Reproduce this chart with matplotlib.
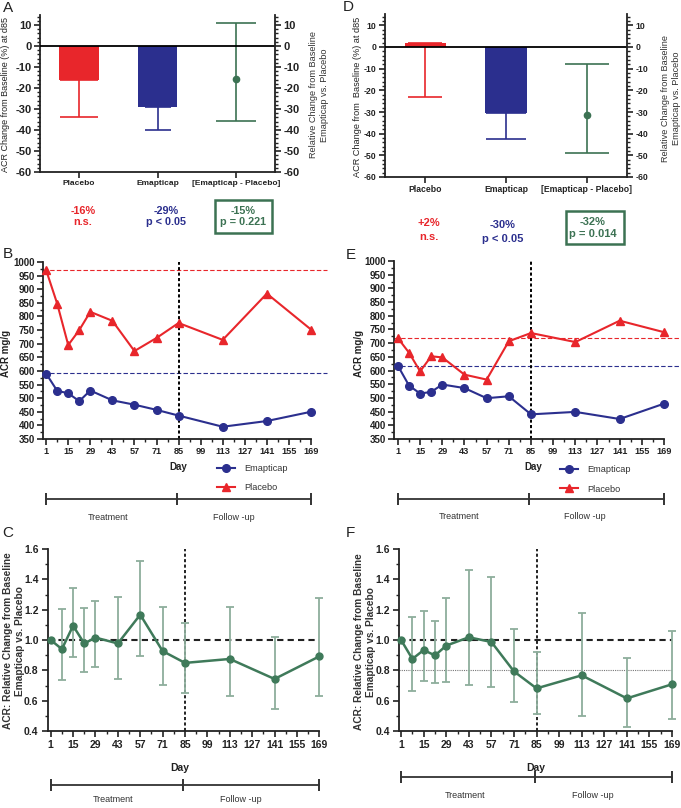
import matplotlib
matplotlib.use('Agg')
import numpy as np
import matplotlib.pyplot as plt
import matplotlib.transforms as mtransforms
from matplotlib.patches import Rectangle
from matplotlib.ticker import MultipleLocator, FixedLocator

plt.rcParams['font.family'] = ['Liberation Sans', 'DejaVu Sans']
plt.rcParams['axes.unicode_minus'] = False

# ---------------- data ----------------
bar_categories = ['Placebo', 'Emapticap', '[Emapticap - Placebo]']

A_bar_values = [-16, -29]
A_bar_lower = [-34, -40]
A_diff_value = -15.5
A_diff_ci = [-35.5, 11]

D_bar_values = [2, -30.5]
D_bar_lower = [-23, -42.5]
D_diff_value = -31.5
D_diff_ci = [-49, -8]

A_notes = [('-16%', 'n.s.'), ('-29%', 'p < 0.05'), ('-15%', 'p = 0.221')]
D_notes = [('+2%', 'n.s.'), ('-30%', 'p < 0.05'), ('-32%', 'p = 0.014')]

days = [1, 8, 15, 22, 29, 43, 57, 71, 85, 113, 141, 169]

B_placebo = [970, 847, 695, 750, 817, 784, 673, 721, 776, 714, 884, 752]
B_emapticap = [590, 527, 518, 489, 528, 492, 476, 457, 436, 395, 416, 450]
B_placebo_baseline = 972
B_emapticap_baseline = 591

E_placebo = [718, 665, 597, 652, 648, 585, 567, 707, 737, 704, 782, 740]
E_emapticap = [617, 545, 516, 522, 549, 536, 499, 506, 440, 449, 423, 479]
E_placebo_baseline = 718
E_emapticap_baseline = 617

C_ratio = [1.00, 0.940, 1.094, 0.977, 1.016, 0.977, 1.167, 0.927, 0.849, 0.875, 0.743, 0.892]
C_low = [1.00, 0.736, 0.886, 0.787, 0.820, 0.745, 0.897, 0.702, 0.650, 0.630, 0.542, 0.629]
C_high = [1.00, 1.202, 1.345, 1.213, 1.259, 1.281, 1.521, 1.220, 1.110, 1.220, 1.020, 1.275]

F_ratio = [1.00, 0.875, 0.934, 0.898, 0.963, 1.018, 0.987, 0.793, 0.681, 0.767, 0.615, 0.708]
F_low = [1.00, 0.664, 0.730, 0.714, 0.725, 0.705, 0.690, 0.589, 0.510, 0.501, 0.426, 0.477]
F_high = [1.00, 1.154, 1.193, 1.123, 1.277, 1.462, 1.415, 1.070, 0.919, 1.176, 0.884, 1.059]
F_reference = 0.8

timeline_days = [1, 84, 169]
timeline_labels = ['Treatment', 'Follow -up']

# ---------------- style ----------------
RED = '#E8262B'
BLUE = '#2B2F8E'
GREEN = '#3C7253'
GREEN_LINE = '#3F7A5A'
GREEN_ERR = '#8DAE9C'
DARK = '#222222'

W, H = 681, 808
fig = plt.figure(figsize=(W / 100, H / 100), dpi=100)


def ax_px(x0, y0, x1, y1):
    return fig.add_axes([x0 / W, 1 - y1 / H, (x1 - x0) / W, (y1 - y0) / H])


def ft(x, y, s, **kw):
    kw.setdefault('ha', 'center')
    kw.setdefault('va', 'center')
    kw.setdefault('color', DARK)
    return fig.text(x / W, 1 - y / H, s, **kw)


def style_ticks(ax, size, pad=3.0):
    ax.tick_params(axis='both', which='major', direction='out', length=4, width=1.2,
                   labelsize=size, colors=DARK, pad=pad)
    ax.tick_params(axis='both', which='minor', direction='out', length=2.3, width=1.0,
                   colors=DARK)
    for lab in ax.get_xticklabels() + ax.get_yticklabels():
        lab.set_fontweight('bold')
    for sp in ax.spines.values():
        sp.set_linewidth(1.3)
        sp.set_color(DARK)


# ---------------- bar panels (A, D) ----------------
def bar_panel(ax, vals, lowers, diff, ci, caps, ticksize, catsize):
    x = np.arange(3)
    ax.bar(x[:2], vals, width=0.51, color=[RED, BLUE], zorder=2)
    for xi, v, lo, c, cs in zip(x[:2], vals, lowers, [RED, BLUE], caps[:2]):
        ax.errorbar(xi, v, yerr=[[v - lo], [0]], color=c, capsize=cs, lw=1.2,
                    capthick=1.2, zorder=1)
    ax.errorbar(x[2], diff, yerr=[[diff - ci[0]], [ci[1] - diff]], fmt='o', color=GREEN,
                ms=4.5, capsize=caps[2], lw=1.2, capthick=1.2, zorder=3)
    ax.axhline(0, color='black', lw=1.3, zorder=4)
    ax.set_xlim(-0.5, 2.5)
    ax.set_ylim(-60, 15)
    ax.set_xticks(x)
    ax.set_xticklabels(bar_categories, fontsize=catsize)
    ax.set_yticks(range(-60, 11, 10))
    ax.yaxis.set_minor_locator(MultipleLocator(2))
    ax.spines['top'].set_visible(False)
    ax.spines['right'].set_visible(False)
    style_ticks(ax, ticksize, pad=2)
    for lab in ax.get_xticklabels():
        lab.set_fontsize(catsize)
    ax2 = ax.twinx()
    ax2.set_ylim(-60, 15)
    ax2.set_yticks(range(-60, 11, 10))
    ax2.yaxis.set_minor_locator(MultipleLocator(2))
    for s in ['top', 'left', 'bottom']:
        ax2.spines[s].set_visible(False)
    style_ticks(ax2, ticksize, pad=2)
    return ax2


axA = ax_px(40, 14.5, 275, 172)
bar_panel(axA, A_bar_values, A_bar_lower, A_diff_value, A_diff_ci, [14, 9.5, 14.7], 8, 6)
axD = ax_px(385, 14.5, 627, 177)
bar_panel(axD, D_bar_values, D_bar_lower, D_diff_value, D_diff_ci, [12.5, 14.5, 16], 6.2, 6.2)

ft(6, 95, 'ACR Change from Baseline (%) at d85', rotation=90, fontsize=6.5)
ft(319, 95, 'Relative Change from Baseline\nEmapticap vs. Placebo', rotation=90,
   fontsize=6.6, multialignment='center', color='#333333')
ft(357, 97, 'ACR Change from  Baseline (%) at d85', rotation=90, fontsize=6.6)
ft(671, 98, 'Relative Change from Baseline\nEmapticap vs. Placebo', rotation=90,
   fontsize=6.6, multialignment='center', color='#333333')

# annotations
note_colors = [RED, BLUE, GREEN]
A_note_pos = [(83, 211, 222), (166, 211, 222), (243, 211, 222)]
D_note_pos = [(429, 223, 237), (503, 225, 239), (593, 222, 234)]
for (t1, t2), (xx, y1, y2), c in zip(A_notes, A_note_pos, note_colors):
    ft(xx, y1, t1, fontsize=7.8, fontweight='bold', color=c)
    ft(xx, y2, t2, fontsize=7.8, fontweight='bold', color=c)
for (t1, t2), (xx, y1, y2), c in zip(D_notes, D_note_pos, note_colors):
    ft(xx, y1, t1, fontsize=8, fontweight='bold', color=c)
    ft(xx, y2, t2, fontsize=8, fontweight='bold', color=c)
fig.add_artist(Rectangle((215 / W, 1 - 233 / H), 57 / W, 33 / H, transform=fig.transFigure,
                         fill=False, ec=GREEN, lw=1.8))
fig.add_artist(Rectangle((566 / W, 1 - 244 / H), 58 / W, 33 / H, transform=fig.transFigure,
                         fill=False, ec=GREEN, lw=1.8))


# ---------------- line panels (B, E) ----------------
def day_axis(ax, xlim0):
    ax.set_xlim(xlim0, 169)
    ax.xaxis.set_major_locator(FixedLocator(range(1, 170, 14)))
    ax.xaxis.set_minor_locator(FixedLocator(range(8, 170, 14)))
    ax.spines['top'].set_visible(False)
    ax.spines['right'].set_visible(False)


def timeline(ax, y, text_y, text_days):
    trans = mtransforms.blended_transform_factory(ax.transData, ax.transAxes)
    ax.plot([timeline_days[0], timeline_days[-1]], [y, y], color='#333333', lw=1.3,
            transform=trans, clip_on=False)
    ax.plot(timeline_days, [y] * len(timeline_days), ls='', marker='|', ms=8, mew=1.4,
            color='#333333', transform=trans, clip_on=False)
    for d, s in zip(text_days, timeline_labels):
        ax.text(d, text_y, s, transform=trans, ha='center', va='center', fontsize=6.5,
                color='#333333')


def acr_panel(ax, emap, plac, emap_base, plac_base, xlim0, leg_anchor):
    ax.plot([xlim0, 179], [plac_base] * 2, ls=(0, (4, 2)), color=RED, lw=0.8, clip_on=False)
    ax.plot([xlim0, 179], [emap_base] * 2, ls=(0, (4, 2)), color=BLUE, lw=0.8, clip_on=False)
    ax.axvline(85, color='black', ls=(0, (1.6, 1.2)), lw=1.4)
    lp, = ax.plot(days, plac, '-^', color=RED, ms=5.5, lw=1.5, label='Placebo', clip_on=False,
                  zorder=3)
    le, = ax.plot(days, emap, '-o', color=BLUE, ms=5.5, lw=1.5, label='Emapticap',
                  clip_on=False, zorder=3)
    ax.set_ylim(350, 1000)
    ax.yaxis.set_major_locator(MultipleLocator(50))
    ax.yaxis.set_minor_locator(MultipleLocator(25))
    day_axis(ax, xlim0)
    style_ticks(ax, 7, pad=2)
    for lab in ax.get_xticklabels():
        lab.set_fontsize(6.6)
    leg = ax.legend(handles=[le, lp], loc='center left', bbox_to_anchor=leg_anchor,
                    frameon=False, fontsize=6.6, labelspacing=1.1, handlelength=2.0,
                    handletextpad=1.0, borderpad=0, borderaxespad=0)
    for t in leg.get_texts():
        t.set_color('#333333')


axB = ax_px(43, 262, 311, 439)
acr_panel(axB, B_emapticap, B_placebo, B_emapticap_baseline, B_placebo_baseline, -1,
          (0.649, -0.22))
timeline(axB, -0.339, -0.441, [40, 120])
ft(178, 467, 'Day', fontsize=7, fontweight='bold')
ft(6, 353, 'ACR mg/g', rotation=90, fontsize=7, fontweight='bold')

axE = ax_px(394, 261, 664, 439)
acr_panel(axE, E_emapticap, E_placebo, E_emapticap_baseline, E_placebo_baseline, -1.5,
          (0.615, -0.2275))
timeline(axE, -0.337, -0.438, [39.5, 119])
ft(533, 467, 'Day', fontsize=7, fontweight='bold')
ft(359, 353, 'ACR mg/g', rotation=90, fontsize=7, fontweight='bold')


# ---------------- ratio panels (C, F) ----------------
def ratio_panel(ax, vals, lo, hi, xlim0, ref=None):
    vals, lo, hi = np.array(vals), np.array(lo), np.array(hi)
    d = np.array(days)
    m = hi > lo
    ax.errorbar(d[m], vals[m], yerr=[vals[m] - lo[m], hi[m] - vals[m]], fmt='none',
                ecolor=GREEN_ERR, capsize=3, elinewidth=1.3, capthick=1.3, zorder=2,
                clip_on=False)
    ax.axhline(1.0, color='#222222', ls=(0, (3, 2)), lw=1.5, zorder=1)
    if ref is not None:
        ax.axhline(ref, color='#777777', ls=(0, (1, 1)), lw=0.8, zorder=1)
    ax.axvline(85, color='#222222', ls=(0, (1.6, 1.2)), lw=1.4, zorder=1)
    ax.plot(days, vals, '-o', color=GREEN_LINE, ms=5, lw=1.8, zorder=3, clip_on=False)
    ax.set_ylim(0.4, 1.6)
    ax.yaxis.set_major_locator(MultipleLocator(0.2))
    ax.yaxis.set_minor_locator(MultipleLocator(0.1))
    ax.yaxis.set_major_formatter(matplotlib.ticker.FormatStrFormatter('%.1f'))
    day_axis(ax, xlim0)
    style_ticks(ax, 7.5, pad=2.5)


axC = ax_px(47.5, 549, 319.3, 731)
ratio_panel(axC, C_ratio, C_low, C_high, -1)
timeline(axC, -0.297, -0.379, [40, 120])
ft(180, 768, 'Day', fontsize=7.5, fontweight='bold')
ft(14, 641, 'ACR: Relative Change from Baseline\nEmapticap vs. Placebo', rotation=90,
   fontsize=7.3, fontweight='bold', multialignment='center', color='#333333')

axF = ax_px(399, 549, 672, 731)
ratio_panel(axF, F_ratio, F_low, F_high, -0.3, ref=F_reference)
timeline(axF, -0.253, -0.352, [40.5, 120])
ft(536, 768, 'Day', fontsize=7.5, fontweight='bold')
ft(365, 642, 'ACR: Relative Change from Baseline\nEmapticap vs. Placebo', rotation=90,
   fontsize=7.3, fontweight='bold', multialignment='center', color='#333333')

# panel letters
for s, (xx, yy) in zip('ABCDEF', [(8, 8), (8, 254), (8, 533), (348, 7), (351, 255), (350, 533)]):
    ft(xx, yy, s, fontsize=11)

fig.savefig('out.png', dpi=100)
